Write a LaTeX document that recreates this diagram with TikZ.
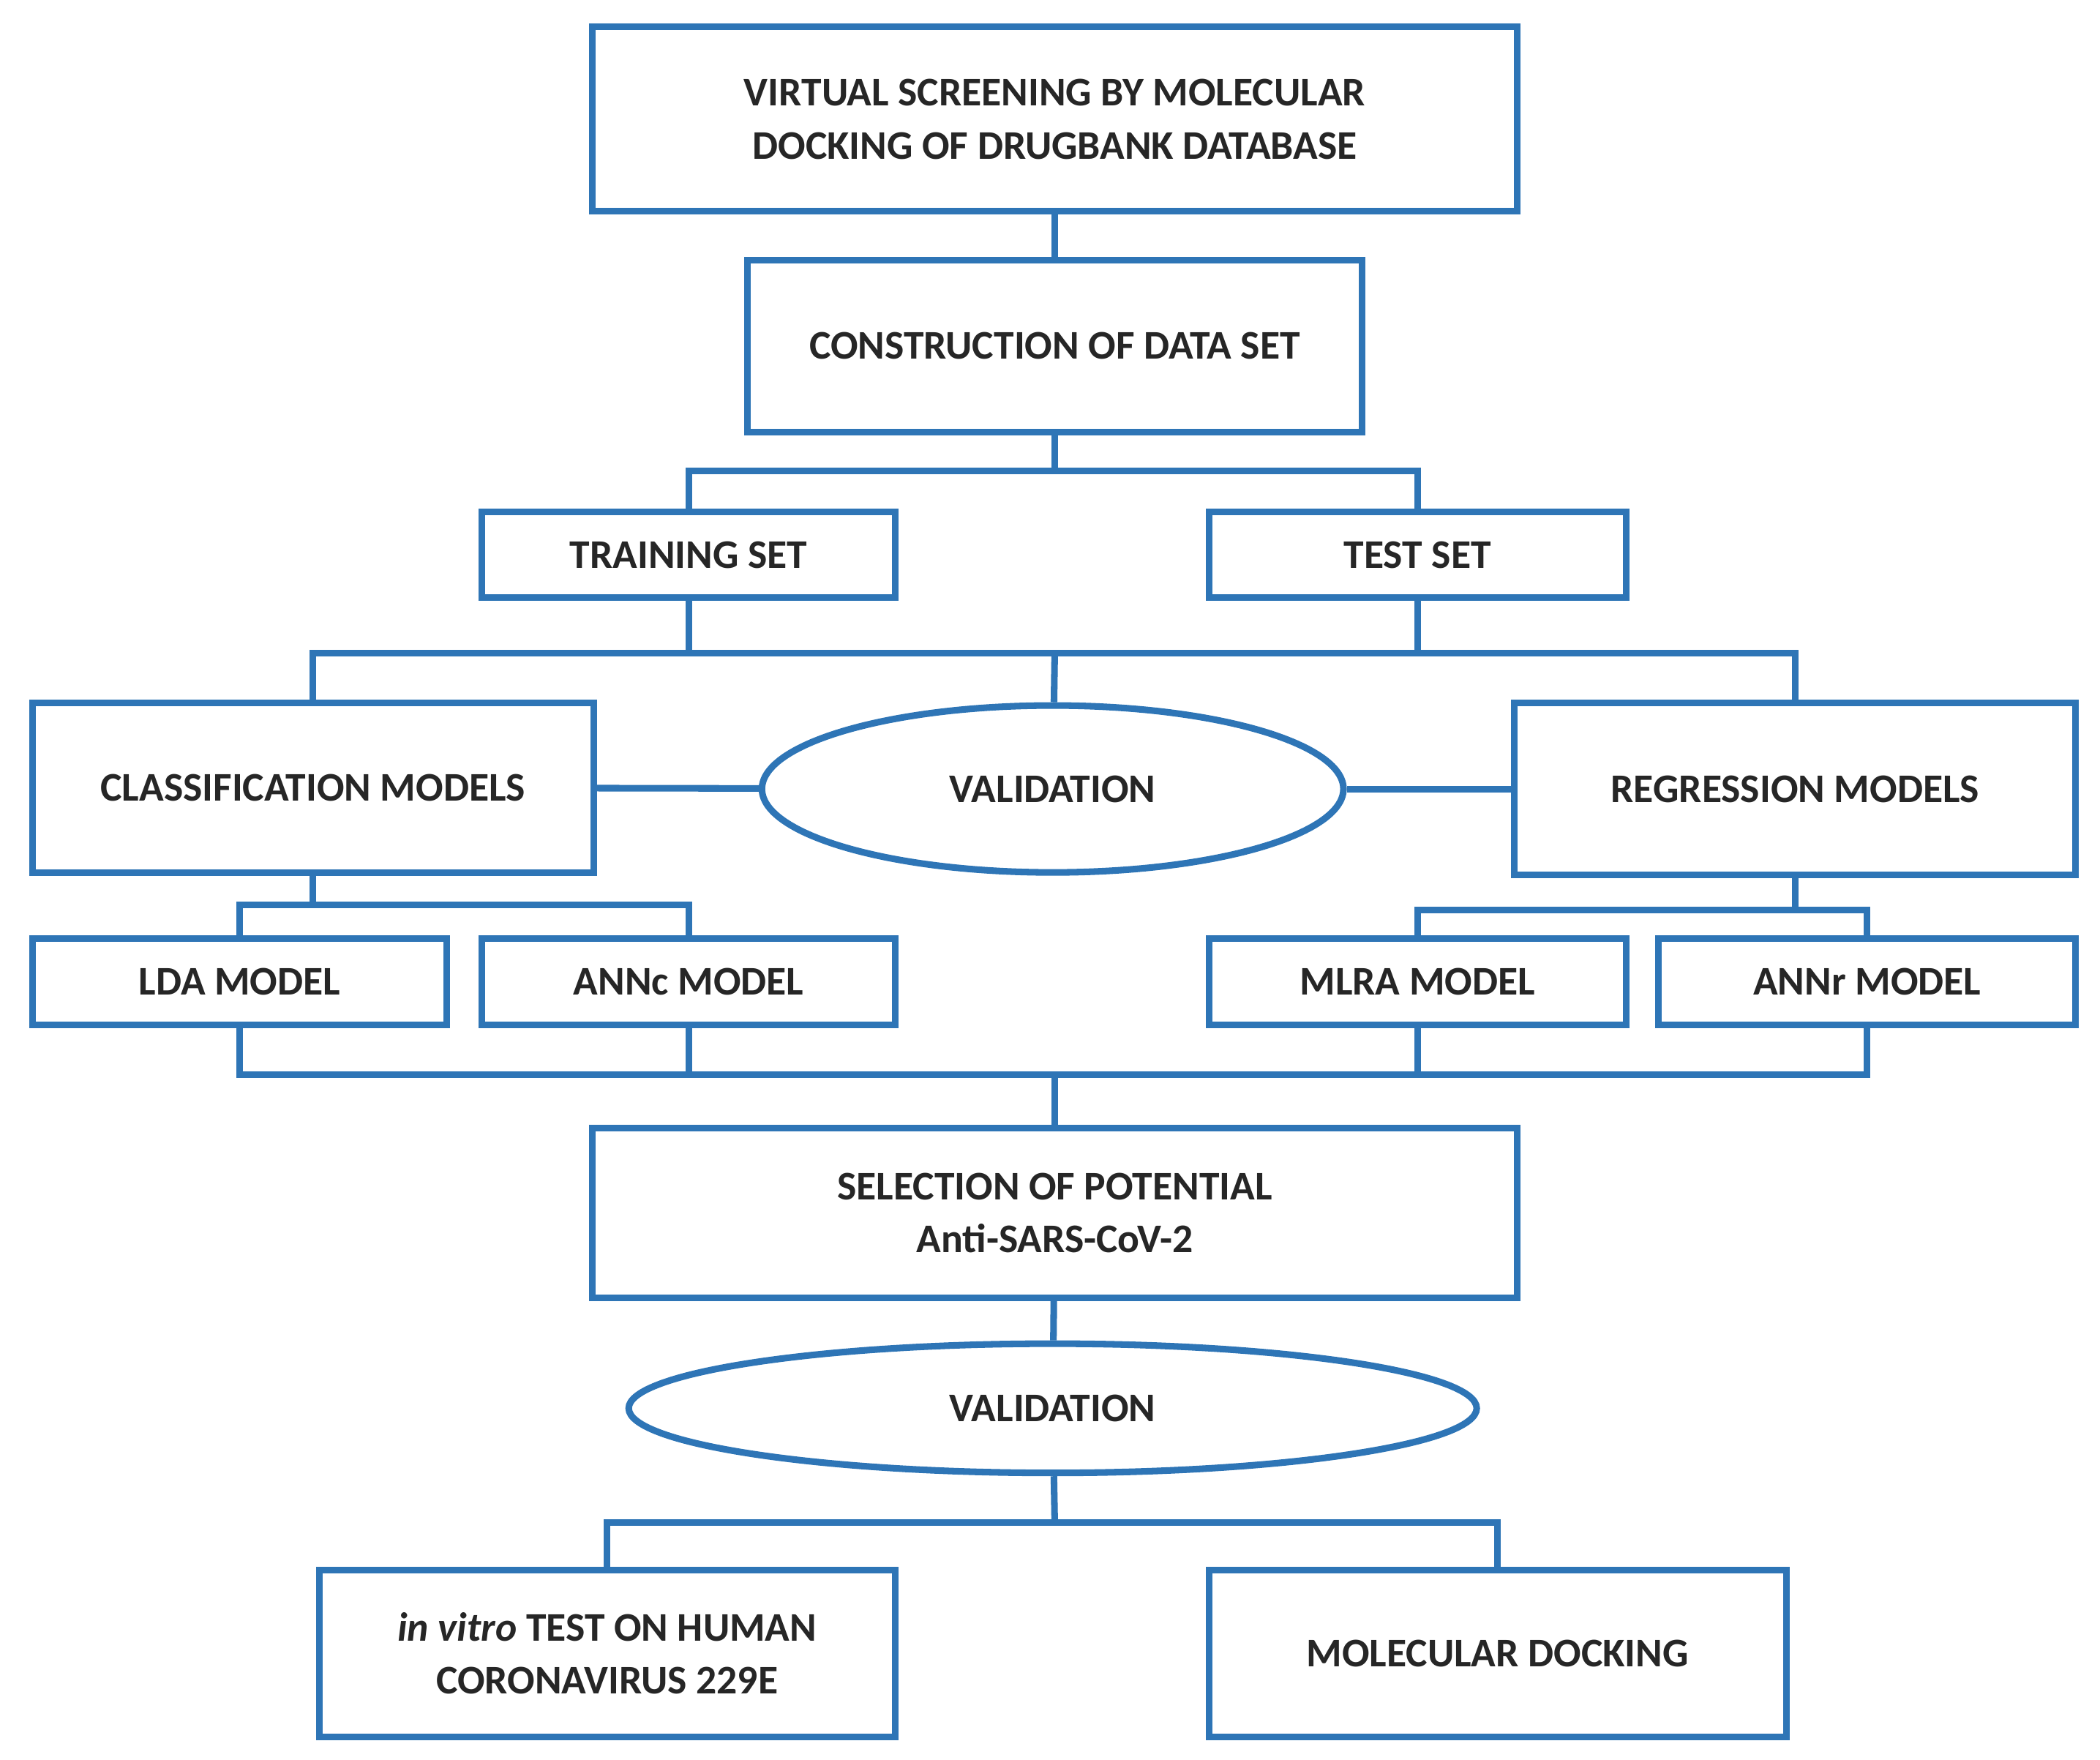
\documentclass[tikz,border=0pt]{standalone}
\usepackage{fontspec}
\setmainfont{Carlito}
\usetikzlibrary{shapes.geometric}
\definecolor{bl}{RGB}{46,117,182}
\begin{document}
\begin{tikzpicture}[x=0.05cm,y=-0.05cm,
  every node/.style={font=\fontsize{43}{56}\selectfont\bfseries, text=black!85, align=center, inner sep=0pt},
  box/.style={draw=bl, line width=7pt, rectangle},
  ell/.style={draw=bl, line width=7pt, ellipse},
  ln/.style={draw=bl, line width=7pt}]
\useasboundingbox (0,0) rectangle (1560,1307);
\node[box,minimum width=34.35cm,minimum height=6.85cm] (vs) at (783.5,88.5) {VIRTUAL SCREENING BY MOLECULAR\\DOCKING OF DRUGBANK DATABASE};
\node[box,minimum width=22.85cm,minimum height=6.4cm] (cd) at (783.5,257) {CONSTRUCTION OF DATA SET};
\node[box,minimum width=15.35cm,minimum height=3.2cm] (tr) at (511.5,412) {TRAINING SET};
\node[box,minimum width=15.5cm,minimum height=3.2cm] (te) at (1053,412) {TEST SET};
\node[box,minimum width=20.85cm,minimum height=6.3cm] (cm) at (232.5,585) {CLASSIFICATION MODELS};
\node[box,minimum width=20.85cm,minimum height=6.4cm] (rm) at (1333.5,586) {REGRESSION MODELS};
\node[ell,minimum width=21.6cm,minimum height=6.2cm] (v1) at (782,586) {VALIDATION};
\node[box,minimum width=15.4cm,minimum height=3.2cm] (lda) at (178,729) {LDA MODEL};
\node[box,minimum width=15.35cm,minimum height=3.2cm] (annc) at (511.5,729) {ANNc MODEL};
\node[box,minimum width=15.5cm,minimum height=3.2cm] (mlra) at (1053,729) {MLRA MODEL};
\node[box,minimum width=15.5cm,minimum height=3.2cm] (annr) at (1387,729) {ANNr MODEL};
\node[box,minimum width=34.35cm,minimum height=6.3cm] (sel) at (783.5,901) {SELECTION OF POTENTIAL\\Anti-SARS-CoV-2};
\node[ell,minimum width=31.5cm,minimum height=4.8cm] (v2) at (782,1046) {VALIDATION};
\node[box,minimum width=21.4cm,minimum height=6.2cm] (iv) at (451,1228) {\textit{in vitro} TEST ON HUMAN\\CORONAVIRUS 229E};
\node[box,minimum width=21.45cm,minimum height=6.2cm] (md) at (1112.5,1228) {MOLECULAR DOCKING};
\coordinate (j1) at (783.5,350);
\coordinate (j2) at (783.5,485);
\coordinate (j3) at (232.5,672);
\coordinate (j4) at (1333.5,676);
\coordinate (j5) at (783.5,798);
\coordinate (j6) at (783.5,1131);
\draw[ln] (vs) -- (cd);
\draw[ln] (cd) -- (j1);
\draw[ln] (j1) -| (tr);
\draw[ln] (j1) -| (te);
\draw[ln] (tr) |- (j2);
\draw[ln] (te) |- (j2);
\draw[ln] (j2) -- (v1);
\draw[ln] (j2) -| (cm);
\draw[ln] (j2) -| (rm);
\draw[ln] (cm) -- (v1);
\draw[ln] (v1) -- (rm);
\draw[ln] (cm) -- (j3);
\draw[ln] (j3) -| (lda);
\draw[ln] (j3) -| (annc);
\draw[ln] (rm) -- (j4);
\draw[ln] (j4) -| (mlra);
\draw[ln] (j4) -| (annr);
\draw[ln] (lda) |- (j5);
\draw[ln] (annc) |- (j5);
\draw[ln] (mlra) |- (j5);
\draw[ln] (annr) |- (j5);
\draw[ln] (j5) -- (sel);
\draw[ln] (sel) -- (v2);
\draw[ln] (v2) -- (j6);
\draw[ln] (j6) -| (iv);
\draw[ln] (j6) -| (md);
\end{tikzpicture}
\end{document}
